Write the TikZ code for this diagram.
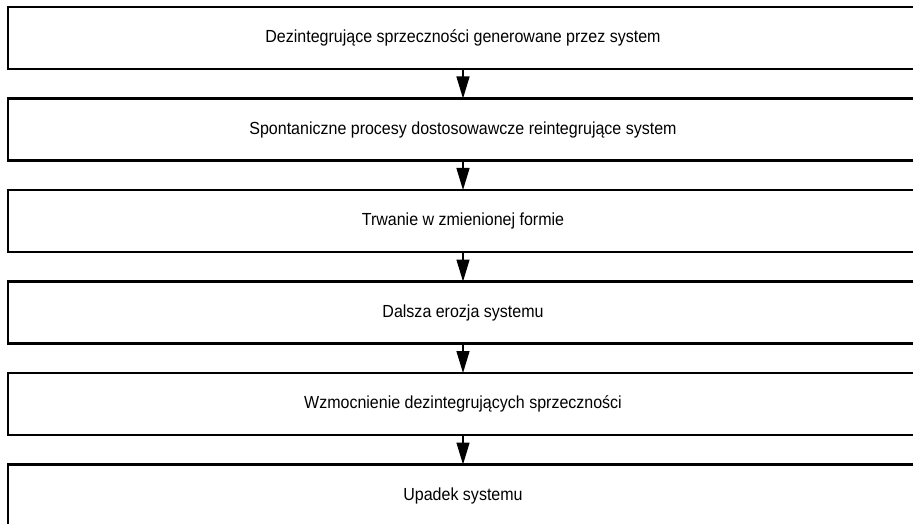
\documentclass[tikz,border=0pt]{standalone}
\usepackage{fontspec}
\setmainfont{Liberation Sans}[FakeStretch=0.915]
\usetikzlibrary{arrows.meta}
\tikzset{
  stepbox/.style={draw=black, line width=2.2pt, minimum width=910pt, minimum height=62pt,
    inner sep=0pt, outer sep=0pt, font=\fontsize{17.5}{21}\selectfont},
  arr/.style={line width=1.3pt, -{Triangle[length=22pt,width=13pt]}}
}
\begin{document}
\begin{tikzpicture}[x=1pt,y=-1pt]
\useasboundingbox (0,0) rectangle (913,524);
\clip (0,0) rectangle (913,524);
\node[stepbox] (b1) at (463,38) {Dezintegrujące sprzeczności generowane przez system};
\node[stepbox] (b2) at (463,129.5) {Spontaniczne procesy dostosowawcze reintegrujące system};
\node[stepbox] (b3) at (463,221) {Trwanie w zmienionej formie};
\node[stepbox] (b4) at (463,312.5) {Dalsza erozja systemu};
\node[stepbox] (b5) at (463,404) {Wzmocnienie dezintegrujących sprzeczności};
\node[stepbox] (b6) at (463,495.5) {Upadek systemu};
\draw[arr] (b1.south) -- (b2.north);
\draw[arr] (b2.south) -- (b3.north);
\draw[arr] (b3.south) -- (b4.north);
\draw[arr] (b4.south) -- (b5.north);
\draw[arr] (b5.south) -- (b6.north);
\end{tikzpicture}
\end{document}
